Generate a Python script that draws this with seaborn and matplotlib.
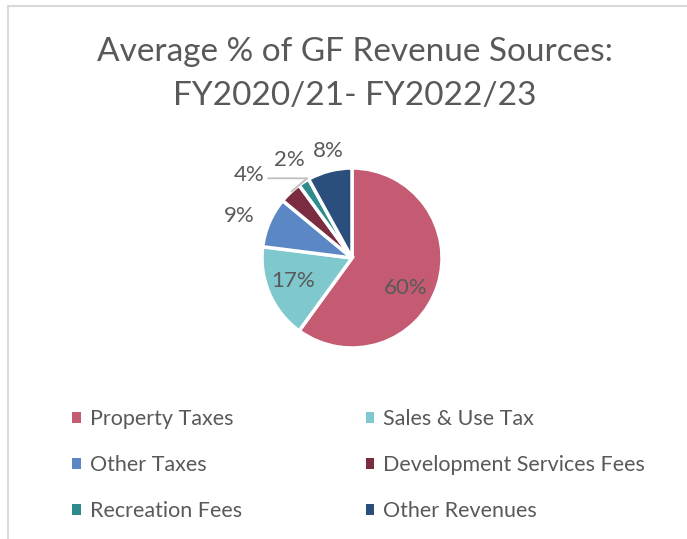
import numpy as np
import matplotlib.pyplot as plt
import seaborn as sns
from matplotlib.patches import Patch
from matplotlib.lines import Line2D

categories = ['Property Taxes', 'Sales & Use Tax', 'Other Taxes',
              'Development Services Fees', 'Recreation Fees', 'Other Revenues']
shares = [60, 17, 9, 4, 2, 8]
colors = ['#C45B73', '#7FC8CE', '#5B88C4', '#7B2C41', '#2E8B8C', '#2B4F7D']
title = 'Average % of GF Revenue Sources:\nFY2020/21- FY2022/23'

sns.set_theme(style='white')
plt.rcParams['font.family'] = ['Lato', 'DejaVu Sans']
grey = '#595959'

W, H = 687, 539
fig = plt.figure(figsize=(W / 100, H / 100), dpi=100)

# thin grey frame (top and left edges visible in the reference)
fig.add_artist(Line2D([8 / W, 8 / W], [0, 1 - 6 / H], color='#d9d9d9', lw=1.5))
fig.add_artist(Line2D([8 / W, 1], [1 - 6 / H, 1 - 6 / H], color='#d9d9d9', lw=1.5))

fig.text(355 / W, 1 - 74 / H, title, ha='center', va='center', fontsize=24,
         color=grey, linespacing=1.55)

# pie axes: 200px square centred at the pie centre, radius 0.9 -> 90px
cx, cy, side = 352, 258, 200
ax = fig.add_axes([(cx - side / 2) / W, 1 - (cy + side / 2) / H, side / W, side / H])
wedges, _ = ax.pie(shares, colors=colors, startangle=90, counterclock=False,
                   radius=0.9, wedgeprops=dict(edgecolor='white', linewidth=2.5))
ax.set_xlim(-1, 1)
ax.set_ylim(-1, 1)
ax.set_aspect('equal')
ax.axis('off')

label_r = [0.61, 0.63, 1.20, 1.32, 1.16, 1.10]
label_dang = [-11, -2, 3, 8, 0, -2]
for w, s, r, da in zip(wedges, shares, label_r, label_dang):
    mid = np.deg2rad((w.theta1 + w.theta2) / 2 + da)
    x, y = r * np.cos(mid), r * np.sin(mid)
    ax.text(x, y, f'{s}%', ha='center', va='center', fontsize=16, color=grey)
    if s == 4:
        # leader line from the label to the small wedge
        m0 = np.deg2rad((w.theta1 + w.theta2) / 2)
        ax.annotate('', xy=(0.9 * np.cos(m0), 0.9 * np.sin(m0)),
                    xytext=(x + 0.19, y - 0.03),
                    arrowprops=dict(arrowstyle='-', color='#bfbfbf', lw=1.3,
                                    shrinkA=0, shrinkB=1,
                                    connectionstyle='angle,angleA=0,angleB=40,rad=0'))

# legend filled row by row: reorder for matplotlib's column-major layout
order = [0, 2, 4, 1, 3, 5]
handles = [Patch(facecolor=colors[i], edgecolor='none') for i in order]
labels = [categories[i] for i in order]
leg = fig.legend(handles, labels, ncol=2, frameon=False, fontsize=15.5,
                 loc='upper left', bbox_to_anchor=(53 / W, 1 - 390 / H),
                 handlelength=0.4, handleheight=0.4, handletextpad=0.4,
                 columnspacing=5.75, labelspacing=1.2)
for t in leg.get_texts():
    t.set_color(grey)

fig.savefig('out.png', dpi=100, facecolor='white')
